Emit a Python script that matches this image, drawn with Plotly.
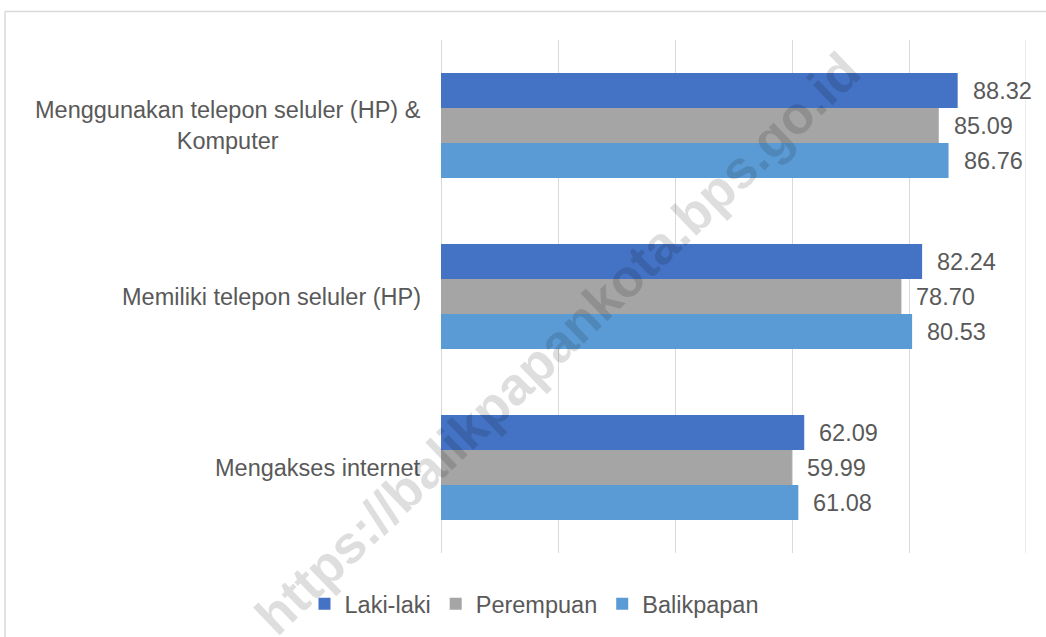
import plotly.graph_objects as go

categories = ["Menggunakan telepon seluler (HP) &<br>Komputer",
              "Memiliki telepon seluler (HP)",
              "Mengakses internet"]
series_names = ["Laki-laki", "Perempuan", "Balikpapan"]
laki = [88.32, 82.24, 62.09]
perempuan = [85.09, 78.70, 59.99]
balikpapan = [86.76, 80.53, 61.08]
colors = ["#4472C4", "#A5A5A5", "#5B9BD5"]
x_ticks = [0, 20, 40, 60, 80, 100]

values = [laki, perempuan, balikpapan]
txt = "#595959"
FONT = "Liberation Sans, Arial, sans-serif"

PL, PR, PT, PB = 441, 1026, 40, 553
PW, PH = PR - PL, PB - PT


def px_x(px):
    return (px - PL) / PW


def px_y(py):
    return 1 - (py - PT) / PH


fig = go.Figure()
for name, vals, c in zip(series_names, values, colors):
    fig.add_trace(go.Bar(
        y=categories, x=vals, name=name, orientation="h",
        marker=dict(color=c, line=dict(width=0)),
        textposition="none",
        hoverinfo="x+name",
    ))

annotations = []
# category labels (centered multi-line)
for cat in categories:
    annotations.append(dict(
        x=0, xref="paper", y=cat, yref="y", text=cat, showarrow=False,
        xanchor="right", yanchor="middle", align="center", xshift=-18,
        font=dict(family=FONT, size=23.5, color=txt)))

# value labels
nser = len(series_names)
bargap = 0.386
for i, vals in enumerate(values):
    for j, v in enumerate(vals):
        annotations.append(dict(
            x=v, xref="x", y=j + (i - (nser - 1) / 2) * (1 - bargap) / nser, yref="y",
            text=f"{v:.2f}", showarrow=False, xanchor="left", yanchor="middle",
            xshift=13, font=dict(family=FONT, size=23.5, color=txt)))

# watermark
annotations.append(dict(
    x=px_x(557), y=px_y(343), xref="paper", yref="paper",
    text="<b>https://balikpapankota.bps.go.id</b>", showarrow=False, textangle=-43.8,
    font=dict(family=FONT, size=53, color="rgba(0,0,0,0.13)"),
    xanchor="center", yanchor="middle"))

shapes = [
    dict(type="line", xref="paper", yref="paper",
         x0=px_x(5), x1=1.1, y0=px_y(11.5), y1=px_y(11.5),
         line=dict(color="#D9D9D9", width=1.5)),
    dict(type="line", xref="paper", yref="paper",
         x0=px_x(5), x1=px_x(5), y0=px_y(11.5), y1=px_y(660),
         line=dict(color="#D9D9D9", width=1.5)),
    # outermost gridline at the axis maximum
    dict(type="line", xref="x", yref="paper", x0=x_ticks[-1], x1=x_ticks[-1],
         y0=0, y1=1, layer="below", line=dict(color="#D9D9D9", width=1)),
]

fig.update_layout(
    width=1046, height=637,
    margin=dict(l=PL, r=1046 - PR, t=PT, b=637 - PB),
    paper_bgcolor="white", plot_bgcolor="white",
    barmode="group", bargap=bargap, bargroupgap=0,
    xaxis=dict(range=[0, 100], tickvals=x_ticks, showticklabels=False,
               showgrid=True, gridcolor="#D9D9D9", gridwidth=1,
               zeroline=True, zerolinecolor="#D9D9D9", zerolinewidth=1,
               showline=False, fixedrange=True),
    yaxis=dict(autorange="reversed", showticklabels=False, showgrid=False,
               zeroline=False, showline=False, ticks=""),
    showlegend=True,
    legend=dict(orientation="h", xref="container", yref="container",
                x=534 / 1046, y=1 - 604 / 637, xanchor="center", yanchor="middle",
                font=dict(family=FONT, size=23.5, color=txt),
                itemclick=False, tracegroupgap=0),
    annotations=annotations,
    shapes=shapes,
)

fig.write_html("out.html", config={"displayModeBar": False},
               post_script="document.body.style.margin='0px';document.body.style.overflow='hidden';")
